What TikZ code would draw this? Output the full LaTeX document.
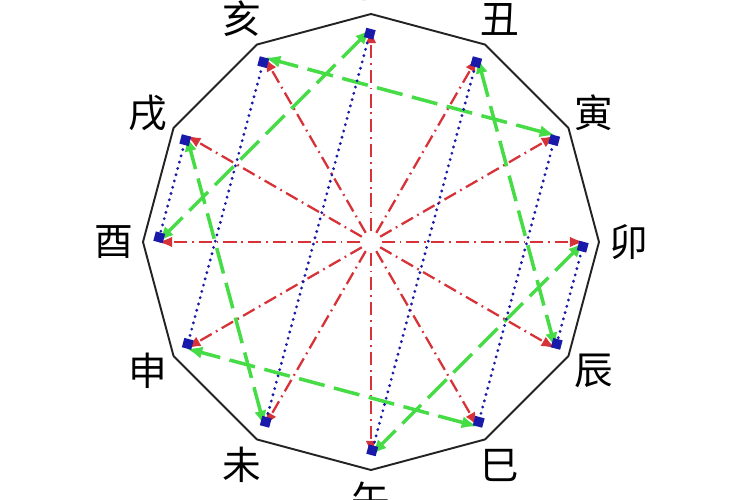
\documentclass[tikz,border=0pt]{standalone}
\usepackage{fontspec}
\newfontfamily\cjk{Noto Sans CJK SC}
\usetikzlibrary{arrows.meta}
\definecolor{spokered}{RGB}{215,50,55}
\definecolor{breakgreen}{RGB}{70,220,70}
\definecolor{harmblue}{RGB}{25,25,170}
\definecolor{rimgray}{RGB}{35,35,35}

\begin{document}
\begin{tikzpicture}[>=Latex,
    spoke/.style={-{Latex[length=8pt,width=6pt]}, spokered, line width=1.3pt, dash pattern=on 7.5pt off 2.8pt on 1pt off 2.8pt, shorten <=6pt},
    breakline/.style={{Latex[length=9pt,width=7pt]}-{Latex[length=9pt,width=7pt]}, breakgreen, line width=2pt, dash pattern=on 15pt off 5.5pt},
    harmline/.style={{Square[length=5.5pt,width=5.5pt]}-{Square[length=5.5pt,width=5.5pt]}, harmblue, line width=1.8pt, dash pattern=on 0pt off 3.7pt, line cap=round},
    branch/.style={font=\cjk\fontsize{22}{22}\selectfont}]
  % Page frame
  \useasboundingbox (-7.42,-5.16) rectangle (7.58,4.84);
  \clip (-7.42,-5.16) rectangle (7.58,4.84);
  \coordinate (o) at (0,0);

  % Branch points, rim corners and names
  \foreach \name/\ang/\txt in {zi/90/子, chou/60/丑, yin/30/寅, mao/0/卯, chen/-30/辰, si/-60/巳,
      wu/-90/午, wei/-120/未, shen/-150/申, you/180/酉, xu/150/戌, hai/120/亥} {
    \coordinate (v-\name) at (\ang:4.56);
    \coordinate (\name) at (\ang:4.26);
    \node[branch] (l-\name) at (\ang:5.15) {\txt};
  }

  % Rim
  \draw[rimgray, line width=1.1pt, line join=round] (v-zi) -- (v-chou) -- (v-yin) -- (v-mao) -- (v-chen) -- (v-si)
      -- (v-wu) -- (v-wei) -- (v-shen) -- (v-you) -- (v-xu) -- (v-hai) -- cycle;

  % Spokes from the centre
  \foreach \name in {zi, chou, yin, mao, chen, si, wu, wei, shen, you, xu, hai}
    \draw[spoke] (o) -- (\name);

  % Green pairs
  \foreach \a/\b in {zi/you, chou/chen, yin/hai, mao/wu, si/shen, wei/xu}
    \draw[breakline] (\a) -- (\b);

  % Blue pairs
  \foreach \a/\b in {mao/chen, yin/si, chou/wu, zi/wei, hai/shen, xu/you}
    \draw[harmline] (\a) -- (\b);
\end{tikzpicture}
\end{document}
